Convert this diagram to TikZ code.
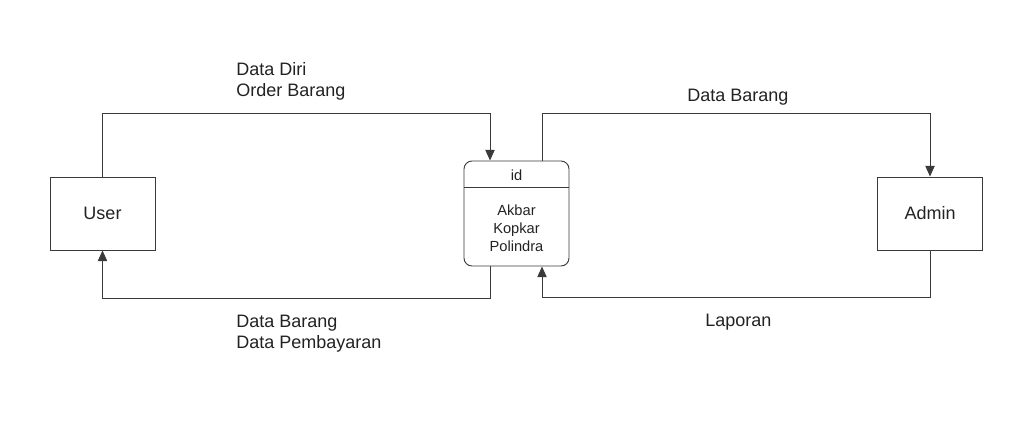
\documentclass[tikz,border=0pt]{standalone}
\usepackage{fontspec}
\setmainfont{Liberation Sans}
\usetikzlibrary{arrows.meta}
\definecolor{ln}{HTML}{3A3A3A}
\definecolor{tx}{HTML}{222222}
\begin{document}
\begin{tikzpicture}[x=0.75pt,y=-0.75pt,
  ent/.style={draw=ln,line width=0.7pt,minimum width=78.75pt,minimum height=54.75pt,inner sep=0pt,font=\fontsize{13.5}{15.75}\selectfont,text=tx},
  procbox/.style={draw=ln,line width=0.7pt,rounded corners=6pt,minimum width=78.75pt,minimum height=78.75pt,inner sep=0pt},
  ptxt/.style={font=\fontsize{11}{13.5}\selectfont,text=tx,align=center,inner sep=0pt},
  lbl/.style={font=\fontsize{13.5}{15.75}\selectfont,text=tx,align=left,anchor=west,inner sep=0pt},
  flow/.style={draw=ln,line width=0.7pt,-{Triangle[length=8pt,width=7pt]}}]
\useasboundingbox (0,0) rectangle (1034,437);
\node[ent] (user) at (102.5,213.5) {User};
\node[ent] (admin) at (930,213.5) {Admin};
\node[procbox] (proc) at (516.5,213.5) {};
\coordinate (divl) at (464,187);
\coordinate (divr) at (569,187);
\draw[draw=ln,line width=0.7pt] (divl) -- (divr);
\node[ptxt] (pid) at (516.5,175) {id};
\node[ptxt] (pname) at (516.5,228.5) {Akbar\\Kopkar\\Polindra};
\coordinate (t1) at (490,113);
\coordinate (t2) at (542,113);
\coordinate (b1) at (490,298);
\coordinate (b2) at (542,297);
\draw[flow] (user.north) |- (t1) -- (proc.north -| t1);
\draw[flow] (proc.north -| t2) -- (t2) -| (admin.north);
\draw[flow] (proc.south -| b1) -- (b1) -| (user.south);
\draw[flow] (admin.south) |- (b2) -- (proc.south -| b2);
\node[lbl] (l1) at (236,81) {Data Diri\\Order Barang};
\node[lbl] (l2) at (687,97) {Data Barang};
\node[lbl] (l3) at (236,334) {Data Barang\\Data Pembayaran};
\node[lbl] (l4) at (705,322) {Laporan};
\end{tikzpicture}
\end{document}
